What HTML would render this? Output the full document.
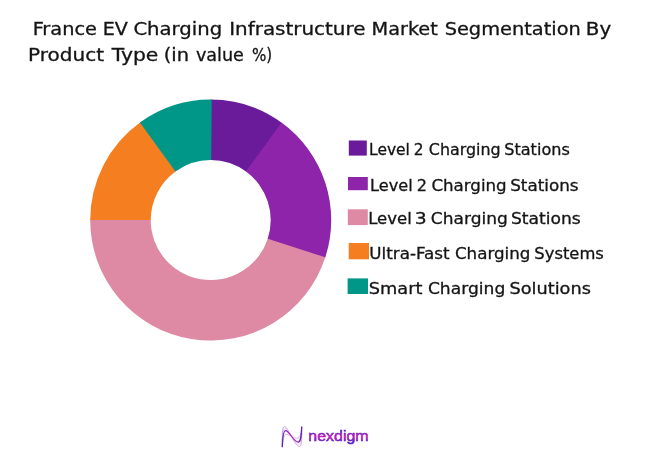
<!DOCTYPE html>
<html lang="en"><head><meta charset="utf-8"><title>France EV Charging Infrastructure Market Segmentation By Product Type</title>
<style>
html,body{margin:0;padding:0;background:#fff;}
body{width:656px;height:456px;overflow:hidden;}
svg{display:block;}
text{font-family:'DejaVu Sans', 'Liberation Sans', sans-serif;fill:#141414;stroke:#141414;stroke-width:0.3px;}
</style></head><body>
<svg width="656" height="456" viewBox="0 0 656 456">
<defs>
<linearGradient id="lgI" gradientUnits="userSpaceOnUse" x1="282" y1="0" x2="302" y2="0"><stop offset="0" stop-color="#5b21b6"/><stop offset="0.5" stop-color="#c026c8"/><stop offset="1" stop-color="#5b21b6"/></linearGradient>
<linearGradient id="lgT" gradientUnits="userSpaceOnUse" x1="0" y1="431.5" x2="0" y2="441.5"><stop offset="0" stop-color="#5a22c0"/><stop offset="0.5" stop-color="#c620bc"/><stop offset="1" stop-color="#5a22c0"/></linearGradient>
</defs>
<rect width="656" height="456" fill="#ffffff"/>
<text y="34.7" font-size="16.95"><tspan x="32.66" textLength="64.32" lengthAdjust="spacingAndGlyphs">France</tspan> <tspan x="102.77" textLength="25.16" lengthAdjust="spacingAndGlyphs">EV</tspan> <tspan x="133.4" textLength="88.77" lengthAdjust="spacingAndGlyphs">Charging</tspan> <tspan x="229.22" textLength="136.27" lengthAdjust="spacingAndGlyphs">Infrastructure</tspan> <tspan x="371.56" textLength="66.23" lengthAdjust="spacingAndGlyphs">Market</tspan> <tspan x="444.66" textLength="136.18" lengthAdjust="spacingAndGlyphs">Segmentation</tspan> <tspan x="585.83" textLength="25.4" lengthAdjust="spacingAndGlyphs">By</tspan></text>
<text y="60.8" font-size="16.95"><tspan x="28.02" textLength="75.96" lengthAdjust="spacingAndGlyphs">Product</tspan> <tspan x="111.7" textLength="46.7" lengthAdjust="spacingAndGlyphs">Type</tspan> <tspan x="163.75" textLength="25.29" lengthAdjust="spacingAndGlyphs">(in</tspan> <tspan x="195.9" textLength="48.04" lengthAdjust="spacingAndGlyphs">value</tspan> <tspan x="252.0" textLength="20.24" lengthAdjust="spacingAndGlyphs">%)</tspan></text>
<path d="M210.70 99.60A120.5 120.5 0 0 1 282.38 123.24L246.39 171.87A60.0 60.0 0 0 0 210.70 160.10Z" fill="#6a1b9a"/>
<path d="M281.53 122.61A120.5 120.5 0 0 1 324.97 258.34L267.60 239.14A60.0 60.0 0 0 0 245.97 171.56Z" fill="#8e24aa"/>
<path d="M325.30 257.34A120.5 120.5 0 0 1 90.20 219.05L150.70 219.58A60.0 60.0 0 0 0 267.76 238.64Z" fill="#de8aa4"/>
<path d="M90.20 220.10A120.5 120.5 0 0 1 140.73 122.00L175.86 171.25A60.0 60.0 0 0 0 150.70 220.10Z" fill="#f57f20"/>
<path d="M139.87 122.61A120.5 120.5 0 0 1 211.75 99.60L211.22 160.10A60.0 60.0 0 0 0 175.43 171.56Z" fill="#009688"/>
<rect x="348.8" y="140.5" width="18.0" height="15.1" fill="#6a1b9a"/>
<rect x="348.0" y="177.0" width="19.8" height="13.2" fill="#8e24aa"/>
<rect x="347.8" y="209.3" width="20.0" height="15.8" fill="#de8aa4"/>
<rect x="348.7" y="243.0" width="20.3" height="16.3" fill="#f57f20"/>
<rect x="347.6" y="278.4" width="20.4" height="15.6" fill="#009688"/>
<text y="155.1" font-size="15.35"><tspan x="369.09" textLength="40.78" lengthAdjust="spacingAndGlyphs">Level</tspan> <tspan x="413.7" textLength="9.76" lengthAdjust="spacingAndGlyphs">2</tspan> <tspan x="428.8" textLength="71.87" lengthAdjust="spacingAndGlyphs">Charging</tspan> <tspan x="504.25" textLength="65.54" lengthAdjust="spacingAndGlyphs">Stations</tspan></text>
<text y="191.0" font-size="15.35"><tspan x="370.05" textLength="42.58" lengthAdjust="spacingAndGlyphs">Level</tspan> <tspan x="416.65" textLength="10.25" lengthAdjust="spacingAndGlyphs">2</tspan> <tspan x="431.4" textLength="75.3" lengthAdjust="spacingAndGlyphs">Charging</tspan> <tspan x="510.21" textLength="68.39" lengthAdjust="spacingAndGlyphs">Stations</tspan></text>
<text y="223.9" font-size="15.95"><tspan x="368.16" textLength="43.62" lengthAdjust="spacingAndGlyphs">Level</tspan> <tspan x="414.82" textLength="11.91" lengthAdjust="spacingAndGlyphs">3</tspan> <tspan x="430.8" textLength="76.99" lengthAdjust="spacingAndGlyphs">Charging</tspan> <tspan x="510.93" textLength="69.8" lengthAdjust="spacingAndGlyphs">Stations</tspan></text>
<text y="259.0" font-size="15.35"><tspan x="369.31" textLength="80.31" lengthAdjust="spacingAndGlyphs">Ultra-Fast</tspan> <tspan x="454.9" textLength="75.51" lengthAdjust="spacingAndGlyphs">Charging</tspan> <tspan x="534.33" textLength="69.56" lengthAdjust="spacingAndGlyphs">Systems</tspan></text>
<text y="293.9" font-size="15.95"><tspan x="368.79" textLength="53.69" lengthAdjust="spacingAndGlyphs">Smart</tspan> <tspan x="427.9" textLength="77.4" lengthAdjust="spacingAndGlyphs">Charging</tspan> <tspan x="509.49" textLength="81.45" lengthAdjust="spacingAndGlyphs">Solutions</tspan></text>
<g fill="none" stroke="url(#lgI)" stroke-linecap="round">
<path d="M282.28 446.67C282.56 441.05 282.77 430.53 285.58 430.53C289.09 430.53 293.65 442.11 298.21 442.11C301.02 442.11 301.37 434.04 301.72 427.02" stroke-width="1.25"/>
<path d="M282.28 446.67C282.07 437.54 282.07 426.32 284.39 426.32C288.04 426.32 294.35 446.67 299.61 446.67C302.07 446.67 301.93 434.04 301.72 427.02" stroke-width="0.45" opacity="0.75"/>
<path d="M282.28 446.67C282.77 441.05 283.47 434.39 286.28 434.39C289.44 434.39 293.65 438.39 297.16 438.39C299.96 438.39 301.23 434.04 301.72 427.02" stroke-width="0.45" opacity="0.75"/>
<path d="M282.28 446.67C282.3 439 282.4 428.4 285 428.4C288.6 428.4 294 444.4 298.9 444.4C301.6 444.4 301.6 434.04 301.72 427.02" stroke-width="0.4" opacity="0.55"/>
</g>
<text x="308.26" y="441.3" font-size="15.4" textLength="60.39" lengthAdjust="spacingAndGlyphs" style="font-family:'Liberation Sans',sans-serif;fill:url(#lgT);stroke:url(#lgT);stroke-width:0.6px">nexdigm</text>
</svg>
</body></html>
